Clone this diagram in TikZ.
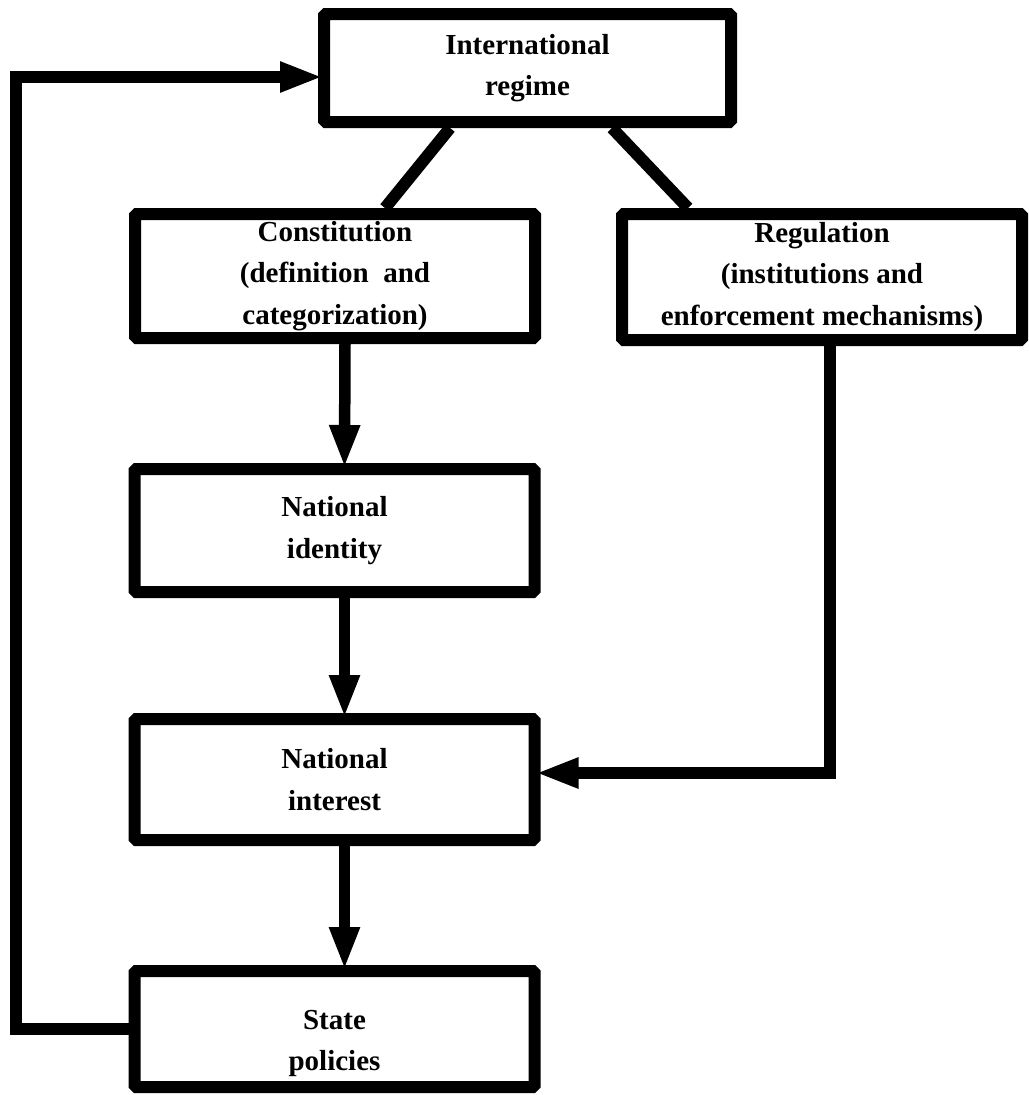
\documentclass[tikz,border=0pt]{standalone}
\usepackage{fontspec}
\setmainfont{Liberation Serif}
\usetikzlibrary{arrows.meta,positioning,calc}
\tikzset{
  rgbox/.style={draw, line width=0.24cm, rounded corners=1pt, align=center,
    inner sep=2pt, font=\fontsize{16.5}{23.5}\selectfont\bfseries},
  rgarrow/.style={-{Triangle[length=0.86cm, width=0.56cm]}, line width=0.23cm,
    shorten >=-0.1cm},
  rgline/.style={line width=0.24cm},
}

\begin{document}
\begin{tikzpicture}
  \useasboundingbox (0,0) rectangle (20.58,-21.9);
  \node[rgbox, minimum width=8.14cm, minimum height=2.16cm] (intl) at (10.55,-1.36)
    {International\\regime};
  \node[rgbox, minimum width=8.0cm, minimum height=2.48cm] (const) at (6.7,-5.52)
    {Constitution\\(definition\ \ and\\categorization)};
  \node[rgbox, minimum width=8.0cm, minimum height=2.52cm] (reg) at (16.44,-5.54)
    {Regulation\\(institutions and\\enforcement mechanisms)};
  \node[rgbox, minimum width=8.0cm, minimum height=2.46cm] (ident) at (6.69,-10.61)
    {National\\identity};
  \node[rgbox, minimum width=8.0cm, minimum height=2.42cm] (interest) at (6.69,-15.59)
    {National\\interest};
  \node[rgbox, minimum width=8.0cm, minimum height=2.32cm] (state) at (6.69,-20.58)
    {\rule{0pt}{0pt}\\[4pt]State\\policies};

  \coordinate (regturn) at (16.6,-15.46);
  \coordinate (fbturn) at (0.32,-1.54);

  \draw[rgline] ([xshift=-1.55cm]intl.south) -- ([xshift=1.0cm]const.north);
  \draw[rgline] ([xshift=1.69cm]intl.south) -- ([xshift=-2.68cm]reg.north);
  \draw[rgarrow] ([xshift=0.2cm]const.south) -- ([xshift=0.2cm]ident.north);
  \draw[rgarrow] ([xshift=0.2cm]ident.south) -- ([xshift=0.2cm]interest.north);
  \draw[rgarrow] ([xshift=0.2cm]interest.south) -- ([xshift=0.2cm]state.north);
  \draw[rgarrow] (reg.south -| regturn) -- (regturn) -- (interest.east |- regturn);
  \draw[rgarrow] (state.west) -| (fbturn) -- (intl.west |- fbturn);
\end{tikzpicture}
\end{document}
